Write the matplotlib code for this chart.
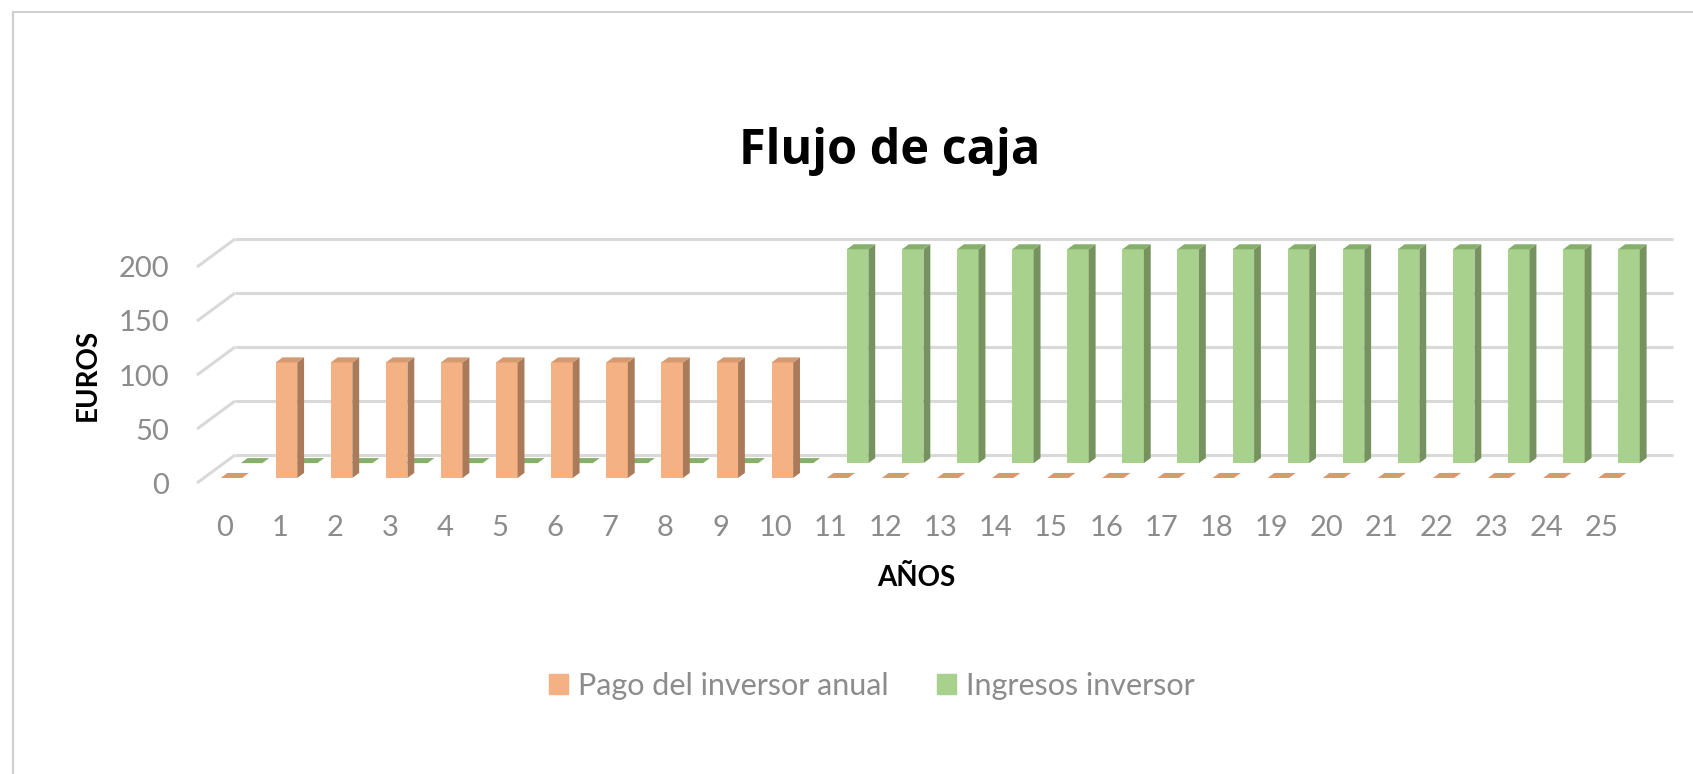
import matplotlib.pyplot as plt
from matplotlib.patches import Polygon, Patch, Rectangle

plt.rcParams['font.family'] = ['Lato', 'DejaVu Sans']

# datos
anios = list(range(0, 26))
pago = [0] + [107] * 10 + [0] * 15
ingresos = [0] * 11 + [198] * 15
yticks = [0, 50, 100, 150, 200]

# colores (cara frontal, lateral, superior)
naranja = ('#F4B183', '#A97B5A', '#D59A70')
verde = ('#A9D18E', '#76925F', '#86AF6C')
gris_txt = '#8C8C8C'
gris_rej = '#D9D9D9'

W, H = 1693, 774
fig = plt.figure(figsize=(W / 100, H / 100), dpi=100)

# plano frontal en pixeles
x0, y0 = 197, 483
paso = 55.1
escala = 1.08
n = len(anios)
ax = fig.add_axes([x0 / W, (H - y0) / H, n * paso / W, 200 * escala / H])
ax.set_xlim(0, n)
ax.set_ylim(0, 200)

# vector de profundidad en unidades de datos
ddx = 38 / paso
ddy = 28 / escala

# rejilla: pared lateral + pared del fondo
for v in yticks:
    ax.plot([0, ddx], [v, v + ddy], color=gris_rej, lw=2.2, zorder=0, clip_on=False, solid_capstyle='butt')
    ax.plot([ddx, n + ddx + 0.1], [v + ddy, v + ddy], color=gris_rej, lw=2.2, zorder=0, clip_on=False,
            solid_capstyle='butt')

ancho = 0.39
grosor = 0.18


def barras(valores, prof, colores, z):
    frente, lado, arriba = colores
    xs = [i + 0.5 + prof * ddx for i in range(len(valores))]
    base = prof * ddy
    for x, v in zip(xs, valores):
        xa, xb = x - ancho / 2, x + ancho / 2
        sx, sy = grosor * ddx, grosor * ddy
        if v > 0:
            ax.bar(x, v, bottom=base, width=ancho, color=frente, zorder=z, clip_on=False, lw=0)
            ax.add_patch(Polygon([(xb, base), (xb + sx, base + sy), (xb + sx, base + v + sy), (xb, base + v)],
                                 closed=True, fc=lado, ec='none', zorder=z, clip_on=False))
            ax.add_patch(Polygon([(xa, base + v), (xb, base + v), (xb + sx, base + v + sy), (xa + sx, base + v + sy)],
                                 closed=True, fc=arriba, ec='none', zorder=z, clip_on=False))
        else:
            ax.add_patch(Polygon([(xa, base), (xb, base), (xb + sx, base + sy), (xa + sx, base + sy)],
                                 closed=True, fc=arriba, ec='none', zorder=z, clip_on=False))


barras(ingresos, 0.71, verde, 2)
barras(pago, 0.18, naranja, 3)

for s in ax.spines.values():
    s.set_visible(False)
ax.set_yticks(yticks)
ax.set_xticks([i + 0.5 for i in anios])
ax.set_xticklabels([str(a) for a in anios])
ax.tick_params(axis='y', length=0, pad=20, labelsize=21, labelcolor=gris_txt)
ax.tick_params(axis='x', length=0, pad=23, labelsize=21, labelcolor=gris_txt)
ax.patch.set_visible(False)

fig.text(890 / W, 1 - 152 / H, 'Flujo de caja', ha='center', va='center', fontsize=35, fontweight='bold',
         family=['Open Sans', 'DejaVu Sans'])
fig.text(88 / W, 1 - 375 / H, 'EUROS', ha='center', va='center', rotation=90, fontsize=20, fontweight='bold')
fig.text(916 / W, 1 - 578 / H, 'AÑOS', ha='center', va='center', fontsize=20, fontweight='bold')

handles = [Patch(color=naranja[0], label='Pago del inversor anual'),
           Patch(color=verde[0], label='Ingresos inversor')]
leg = fig.legend(handles=handles, loc='center', bbox_to_anchor=(872 / W, 1 - 686 / H), ncol=2, frameon=False,
                 fontsize=22, handlelength=0.62, handleheight=0.62, handletextpad=0.33, columnspacing=1.6)
for t in leg.get_texts():
    t.set_color(gris_txt)

# marco del gráfico
fig.add_artist(Rectangle((13 / W, -0.1), 1.2, 1.1 - 12 / H, transform=fig.transFigure, fill=False,
                         ec='#CFCFCF', lw=1.5))

fig.savefig('out.png', dpi=100)
